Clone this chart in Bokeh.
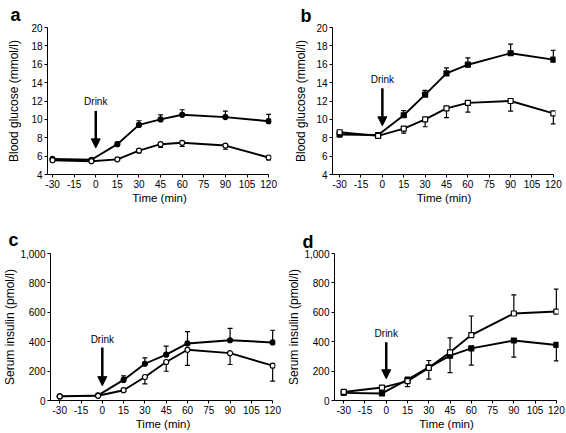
from bokeh.plotting import figure
from bokeh.layouts import column, row
from bokeh.models import (FixedTicker, NumeralTickFormatter, Label, Arrow,
                          NormalHead, Range1d)
from bokeh.embed import file_html
from bokeh.resources import INLINE

# ---------------- data ----------------
time_min = [-30, -3, 15, 30, 45, 60, 90, 120]
x_ticks = [-30, -15, 0, 15, 30, 45, 60, 75, 90, 105, 120]
x_tick_labels = {-30: "-30", -15: "-15"}
glucose_ticks = [4, 6, 8, 10, 12, 14, 16, 18, 20]
insulin_ticks = [0, 200, 400, 600, 800, 1000]

# panel a: blood glucose
a_filled = [5.7, 5.6, 7.3, 9.4, 10.0, 10.5, 10.25, 9.8]
a_filled_err = [0.1, 0.1, 0.2, 0.45, 0.5, 0.55, 0.65, 0.75]
a_open = [5.55, 5.45, 5.65, 6.6, 7.3, 7.45, 7.15, 5.85]
a_open_err = [0.1, 0.1, 0.1, 0.25, 0.35, 0.4, 0.4, 0.25]

# panel b: blood glucose
b_filled = [8.35, 8.3, 10.45, 12.7, 15.0, 15.95, 17.2, 16.5]
b_filled_err = [0.15, 0.15, 0.5, 0.45, 0.6, 0.75, 1.0, 1.0]
b_open = [8.6, 8.2, 9.0, 10.0, 11.2, 11.8, 12.0, 10.65]
b_open_err = [0.15, 0.2, 0.5, 0.8, 1.0, 1.0, 1.1, 1.15]

# panel c: serum insulin
c_filled = [28, 35, 140, 250, 312, 388, 410, 395]
c_filled_err = [5, 5, 28, 40, 58, 80, 80, 83]
c_open = [28, 32, 70, 160, 262, 345, 322, 237]
c_open_err = [5, 5, 10, 47, 63, 106, 77, 105]

# panel d: serum insulin
d_open = [58, 88, 132, 222, 328, 445, 592, 605]
d_open_err = [5, 10, 20, 50, 98, 130, 127, 152]
d_filled = [52, 48, 142, 225, 305, 355, 408, 378]
d_filled_err = [5, 5, 47, 79, 116, 114, 113, 109]

# "Drink" annotation (data units): text y, arrow start y, arrow end y
drink_a = [12.0, 10.9, 6.9]
drink_b = [14.3, 13.4, 9.3]
drink_c = [417, 360, 101]
drink_d = [458, 397, 148]

FONT = "Liberation Sans"


def make_panel(letter, ylabel, yrange, yticks, series, drink, xr,
               frame_w, frame_h, b_left, b_right, b_top, b_bottom,
               ylabel_standoff, letter_offset, letter_standoff, insulin=False):
    p = figure(frame_width=frame_w, frame_height=frame_h,
               x_range=Range1d(xr[0], xr[1]),
               y_range=Range1d(yrange[0], yrange[1]),
               min_border_left=b_left, min_border_right=b_right,
               min_border_top=b_top, min_border_bottom=b_bottom,
               title=letter,
               output_backend="svg", toolbar_location=None)
    p.grid.visible = False
    p.outline_line_color = None
    p.background_fill_color = "white"

    # panel letter (title)
    p.title.text_font = FONT
    p.title.text_font_size = "18px"
    p.title.text_font_style = "bold"
    p.title.text_color = "black"
    p.title.align = "left"
    p.title.standoff = letter_standoff
    p.title.offset = letter_offset

    # error bars
    for s in series:
        tips = [y + s["dir"] * e for y, e in zip(s["y"], s["err"])]
        p.segment(x0=time_min, y0=s["y"], x1=time_min, y1=tips,
                  line_color="black", line_width=1.2)
        p.scatter(x=time_min, y=tips, marker="dash", size=5,
                  line_color="black", line_width=1.2)
    for s in series:
        p.line(time_min, s["y"], line_color="black", line_width=1.9)
    for s in series:
        p.scatter(time_min, s["y"], marker=s["marker"], size=5,
                  fill_color="black" if s["filled"] else "white",
                  line_color="black", line_width=1.2)

    # axes
    p.xaxis.ticker = FixedTicker(ticks=x_ticks)
    p.xaxis.major_label_overrides = x_tick_labels
    p.xaxis.bounds = (xr[0], 120)
    p.yaxis.ticker = FixedTicker(ticks=yticks)
    if insulin:
        p.yaxis.formatter = NumeralTickFormatter(format="0,0")
    for ax in p.axis:
        ax.major_tick_out = 3
        ax.major_tick_in = 0
        ax.minor_tick_out = 0
        ax.minor_tick_in = 0
        ax.axis_line_color = "black"
        ax.major_tick_line_color = "black"
        ax.major_label_text_font = FONT
        ax.major_label_text_font_size = "10px"
        ax.major_label_text_color = "black"
        ax.major_label_standoff = 2
        ax.axis_label_text_font = FONT
        ax.axis_label_text_font_style = "normal"
        ax.axis_label_text_color = "black"
    p.xaxis.axis_label = "Time (min)"
    p.xaxis.axis_label_text_font_size = "11.5px"
    p.xaxis.axis_label_standoff = 1
    p.yaxis.axis_label = ylabel
    p.yaxis.axis_label_text_font_size = "12px"
    p.yaxis.axis_label_standoff = ylabel_standoff

    # Drink annotation
    p.add_layout(Label(x=0, y=drink[0], text="Drink", text_align="center",
                       text_baseline="middle", text_font=FONT,
                       text_font_size="10px", text_color="black"))
    p.add_layout(Arrow(end=NormalHead(size=9, fill_color="black",
                                      line_color="black"),
                       x_start=0, y_start=drink[1], x_end=0, y_end=drink[2],
                       line_width=2.5, line_color="black"))
    return p


FH = 147
pa = make_panel("a", "Blood glucose (mmol/l)", (4, 20), glucose_ticks,
                [dict(y=a_filled, err=a_filled_err, dir=1, marker="circle", filled=True),
                 dict(y=a_open, err=a_open_err, dir=-1, marker="circle", filled=False)],
                drink_a, (-33.5, 122), 224, FH, 47, 8, 26, 44, 7, -37, 5)
pb = make_panel("b", "Blood glucose (mmol/l)", (4, 20), glucose_ticks,
                [dict(y=b_filled, err=b_filled_err, dir=1, marker="square", filled=True),
                 dict(y=b_open, err=b_open_err, dir=-1, marker="square", filled=False)],
                drink_b, (-35, 121.5), 223, FH, 53, 11, 26, 44, 5, -32, 3)
pc = make_panel("c", "Serum insulin (pmol/l)", (0, 1000), insulin_ticks,
                [dict(y=c_filled, err=c_filled_err, dir=1, marker="circle", filled=True),
                 dict(y=c_open, err=c_open_err, dir=-1, marker="circle", filled=False)],
                drink_c, (-36.5, 122), 225, FH, 46, 8, 35, 34, 0, -42, 7,
                insulin=True)
pd = make_panel("d", "Serum insulin (pmol/l)", (0, 1000), insulin_ticks,
                [dict(y=d_filled, err=d_filled_err, dir=-1, marker="square", filled=True),
                 dict(y=d_open, err=d_open_err, dir=1, marker="square", filled=False)],
                drink_d, (-36.5, 121.5), 224, FH, 51, 12, 35, 34, 0, -32, 4,
                insulin=True)

layout = column(row(pa, pb), row(pc, pd))
open("out.html", "w").write(file_html(layout, INLINE))
